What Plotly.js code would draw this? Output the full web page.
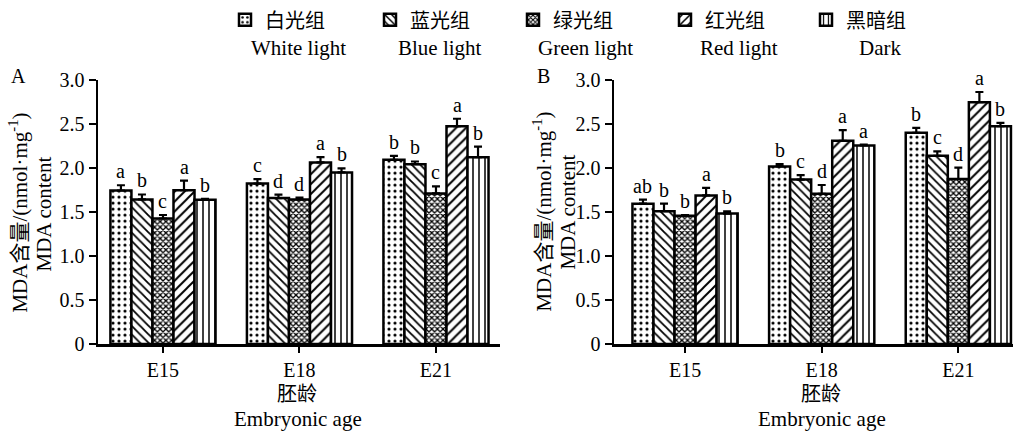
<!DOCTYPE html>
<html>
<head>
<meta charset="utf-8">
<script src="https://cdn.plot.ly/plotly-3.0.1.min.js"></script>
<style>html,body{margin:0;padding:0;background:#fff;}#chart{width:1024px;height:432px;}</style>
</head>
<body>
<div id="chart"></div>
<script>
const categories = ['E15', 'E18', 'E21'];
const groupsCN = ['白光组', '蓝光组', '绿光组', '红光组', '黑暗组'];
const groupsEN = ['White light', 'Blue light', 'Green light', 'Red light', 'Dark'];

// Panel A values (MDA content)
const A_white = [1.745, 1.824, 2.094];
const A_blue  = [1.644, 1.659, 2.045];
const A_green = [1.427, 1.644, 1.712];
const A_red   = [1.749, 2.064, 2.476];
const A_dark  = [1.640, 1.951, 2.124];
const A_white_err = [0.06, 0.05, 0.045];
const A_blue_err  = [0.056, 0.04, 0.03];
const A_green_err = [0.04, 0.02, 0.08];
const A_red_err   = [0.108, 0.06, 0.085];
const A_dark_err  = [0.01, 0.045, 0.12];
const A_white_sig = ['a', 'c', 'b'];
const A_blue_sig  = ['b', 'd', 'b'];
const A_green_sig = ['c', 'd', 'c'];
const A_red_sig   = ['a', 'a', 'a'];
const A_dark_sig  = ['b', 'b', 'b'];

// Panel B values
const B_white = [1.596, 2.019, 2.401];
const B_blue  = [1.510, 1.869, 2.139];
const B_green = [1.457, 1.708, 1.876];
const B_red   = [1.689, 2.311, 2.749];
const B_dark  = [1.483, 2.258, 2.476];
const B_white_err = [0.045, 0.026, 0.056];
const B_blue_err  = [0.086, 0.05, 0.05];
const B_green_err = [0.01, 0.1, 0.13];
const B_red_err   = [0.086, 0.12, 0.116];
const B_dark_err  = [0.026, 0.01, 0.037];
const B_white_sig = ['ab', 'b', 'b'];
const B_blue_sig  = ['b', 'c', 'c'];
const B_green_sig = ['b', 'd', 'd'];
const B_red_sig   = ['a', 'a', 'a'];
const B_dark_sig  = ['b', 'a', 'b'];

const yTickVals = [0, 0.5, 1.0, 1.5, 2.0, 2.5, 3.0];
const yTickText = ['0', '0.5', '1.0', '1.5', '2.0', '2.5', '3.0'];

const SERIF = 'Liberation Serif, "Noto Sans CJK SC", serif';
const patterns = [
  {shape: '.', size: 6, solidity: 0.22},
  {shape: '\\', size: 6, solidity: 0.3},
  {shape: 'x', size: 4, solidity: 0.55},
  {shape: '/', size: 7, solidity: 0.28},
  {shape: '|', size: 6, solidity: 0.25}
];

const A_vals = [A_white, A_blue, A_green, A_red, A_dark];
const A_errs = [A_white_err, A_blue_err, A_green_err, A_red_err, A_dark_err];
const A_sigs = [A_white_sig, A_blue_sig, A_green_sig, A_red_sig, A_dark_sig];
const B_vals = [B_white, B_blue, B_green, B_red, B_dark];
const B_errs = [B_white_err, B_blue_err, B_green_err, B_red_err, B_dark_err];
const B_sigs = [B_white_sig, B_blue_sig, B_green_sig, B_red_sig, B_dark_sig];

const legendNames = ['legend', 'legend2', 'legend3', 'legend4', 'legend5'];
const traces = [];
function addPanel(vals, errs, xa, ya, showLeg) {
  vals.forEach((v, i) => {
    traces.push({
      type: 'bar', x: categories, y: v, xaxis: xa, yaxis: ya,
      name: groupsCN[i], legend: legendNames[i], showlegend: showLeg,
      marker: {color: 'white', line: {color: 'black', width: 2.5},
        pattern: Object.assign({fgcolor: 'black', bgcolor: 'white', fillmode: 'replace'}, patterns[i])},
      error_y: {type: 'data', symmetric: false, array: errs[i], arrayminus: v.map(() => 0),
        color: 'black', thickness: 2.2, width: 4},
      hoverinfo: 'skip'
    });
  });
}
addPanel(A_vals, A_errs, 'x', 'y', true);
addPanel(B_vals, B_errs, 'x2', 'y2', false);

const annotations = [];
const barW = 0.77 / 5;
function addSig(vals, errs, sigs, xr, yr) {
  vals.forEach((v, i) => {
    v.forEach((val, c) => {
      annotations.push({xref: xr, yref: yr, x: c + (i - 2) * barW, y: val + errs[i][c],
        text: sigs[i][c], showarrow: false, xanchor: 'center', yanchor: 'bottom', yshift: 1,
        font: {family: SERIF, size: 20, color: 'black'}});
    });
  });
}
addSig(A_vals, A_errs, A_sigs, 'x', 'y');
addSig(B_vals, B_errs, B_sigs, 'x2', 'y2');

function paperAnn(px, py, text, size, extra) {
  annotations.push(Object.assign({xref: 'paper', yref: 'paper', x: px / 1024, y: 1 - py / 432, text: text,
    showarrow: false, xanchor: 'center', yanchor: 'middle', font: {family: SERIF, size: size, color: 'black'}}, extra || {}));
}
// legend English labels
const enCenters = [298, 440, 585, 739, 880];
groupsEN.forEach((t, i) => paperAnn(enCenters[i], 43, t, 21));
// panel letters
paperAnn(18, 72, 'A', 20);
paperAnn(543, 72, 'B', 20);
// y titles (two lines each)
const yTitle1 = 'MDA含量/(nmol·mg<sup>-1</sup>)';
const yTitle2 = 'MDA content';
paperAnn(19, 210, yTitle1, 21, {textangle: -90});
paperAnn(44, 212, yTitle2, 21, {textangle: -90});
paperAnn(543, 209, yTitle1, 21, {textangle: -90});
paperAnn(568, 210, yTitle2, 21, {textangle: -90});
// x titles
const xTitle1 = '胚龄';
const xTitle2 = 'Embryonic age';
paperAnn(297, 394, xTitle1, 20);
paperAnn(298, 419, xTitle2, 21);
paperAnn(821, 394, xTitle1, 20);
paperAnn(822, 419, xTitle2, 21);

const legX = [225, 370, 513, 665, 806];
const layout = {
  width: 1024, height: 432,
  margin: {l: 0, r: 0, t: 0, b: 0},
  paper_bgcolor: 'white', plot_bgcolor: 'white',
  barmode: 'group', bargap: 0.23, bargroupgap: 0,
  showlegend: true,
  font: {family: SERIF, color: 'black', size: 20},
  annotations: annotations
};
legendNames.forEach((ln, i) => {
  layout[ln] = {x: legX[i] / 1024, y: 1 - 15 / 432, xanchor: 'left', yanchor: 'middle',
    orientation: 'h', bgcolor: 'rgba(0,0,0,0)', font: {family: SERIF, size: 20, color: 'black'}};
});
const xCommon = {type: 'category', showline: true, linewidth: 2.5, linecolor: 'black', ticks: 'outside',
  ticklen: 6, tickwidth: 2, tickcolor: 'black', showgrid: false, zeroline: false,
  tickfont: {family: SERIF, size: 20, color: 'black'}};
const yCommon = {range: [0, 3.0], showline: true, linewidth: 2.5, linecolor: 'black', ticks: 'outside',
  ticklen: 7, tickwidth: 2, tickcolor: 'black', showgrid: false, zeroline: false,
  tickvals: yTickVals, ticktext: yTickText, tickfont: {family: SERIF, size: 20, color: 'black'},
  domain: [(432 - 343) / 432, (432 - 76) / 432]};
layout.xaxis = Object.assign({}, xCommon, {domain: [98 / 1024, 500 / 1024], range: [-0.476, 2.469], anchor: 'y'});
layout.yaxis = Object.assign({}, yCommon, {anchor: 'x'});
layout.xaxis2 = Object.assign({}, xCommon, {domain: [614 / 1024, 1013 / 1024], range: [-0.52, 2.40], anchor: 'y2'});
layout.yaxis2 = Object.assign({}, yCommon, {anchor: 'x2'});

Plotly.newPlot('chart', traces, layout, {staticPlot: true, displayModeBar: false});
</script>
</body>
</html>
